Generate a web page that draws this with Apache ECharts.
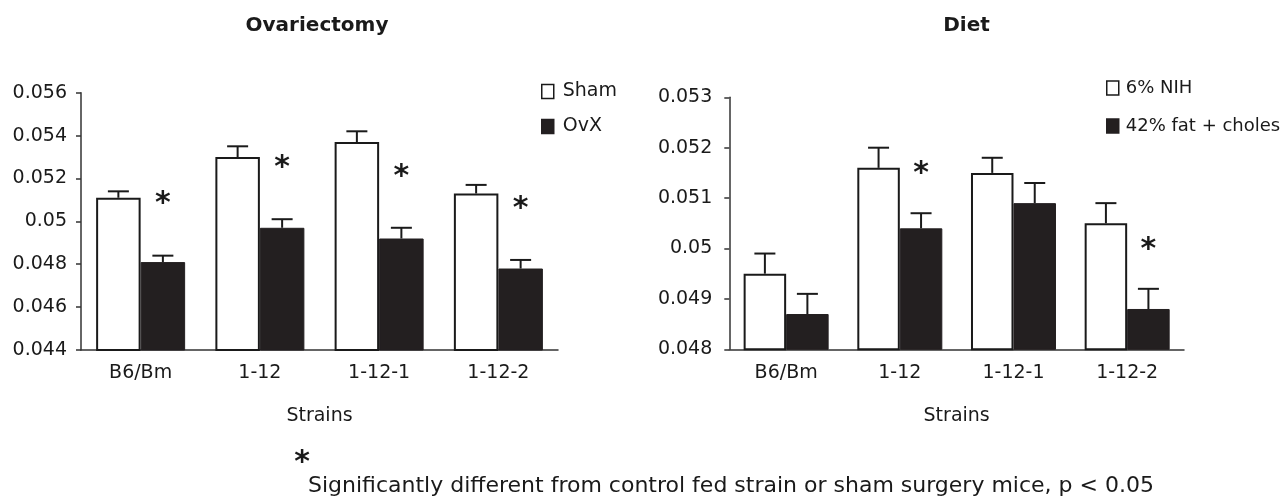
<!DOCTYPE html>
<html>
<head>
<meta charset="utf-8">
<script src="https://cdn.jsdelivr.net/npm/echarts@6/dist/echarts.min.js"></script>
<style>
  html, body { margin: 0; padding: 0; background: #fff; }
  #chart { width: 1286px; height: 496px; }
</style>
</head>
<body>
<div id="chart"></div>
<script>
  // data
  const strains = ['B6/Bm', '1-12', '1-12-1', '1-12-2'];

  const shamMean = [0.0511, 0.0530, 0.0537, 0.0513];
  const shamSem  = [0.0003, 0.0005, 0.0005, 0.0004];
  const ovxMean  = [0.0481, 0.0497, 0.0492, 0.0478];
  const ovxSem   = [0.0003, 0.0004, 0.0005, 0.0004];
  const ovxSig   = [1, 1, 1, 1];

  const nihMean  = [0.0495, 0.0516, 0.0515, 0.0505];
  const nihSem   = [0.0004, 0.0004, 0.0003, 0.0004];
  const fatMean  = [0.0487, 0.0504, 0.0509, 0.0488];
  const fatSem   = [0.0004, 0.0003, 0.0004, 0.0004];
  const dietSig  = [0, 1, 0, 1];

  const FONT = 'DejaVu Sans';
  const INK = '#1a1a1a';
  const DARK = '#231f20';

  // [index, mean, sem] for the error bar series
  function errData(mean, sem) {
    return mean.map(function (m, i) { return [i, m, sem[i]]; });
  }
  function starData(mean, sem, sig) {
    const out = [];
    mean.forEach(function (m, i) { if (sig[i]) out.push([i, m + sem[i]]); });
    return out;
  }

  // upper error bar only: stem from bar top + horizontal cap
  function errSeries(idx, mean, sem, side, barW) {
    return {
      type: 'custom', xAxisIndex: idx, yAxisIndex: idx, z: 5,
      data: errData(mean, sem),
      renderItem: function (params, api) {
        const p0 = api.coord([api.value(0), api.value(1)]);
        const p1 = api.coord([api.value(0), api.value(1) + api.value(2)]);
        const x = p0[0] + side * barW / 2;
        const st = { stroke: INK, lineWidth: 2 };
        return {
          type: 'group',
          children: [
            { type: 'line', shape: { x1: x, y1: p0[1], x2: x, y2: p1[1] }, style: st },
            { type: 'line', shape: { x1: x - 10.5, y1: p1[1], x2: x + 10.5, y2: p1[1] }, style: st }
          ]
        };
      }
    };
  }

  function starSeries(idx, data, barW, lift) {
    return {
      type: 'custom', xAxisIndex: idx, yAxisIndex: idx, z: 6,
      data: data,
      renderItem: function (params, api) {
        const p = api.coord([api.value(0), api.value(1)]);
        return {
          type: 'text',
          x: p[0] + barW / 2, y: p[1] - lift,
          style: { text: '*', fill: INK, font: 'bold 30px "DejaVu Sans"', align: 'center', verticalAlign: 'middle' }
        };
      }
    };
  }

  function catAxis(idx) {
    return {
      type: 'category', gridIndex: idx, data: strains,
      name: 'Strains', nameLocation: 'middle', nameGap: 57,
      nameTextStyle: { fontFamily: FONT, fontSize: 19, color: INK },
      axisLine: { lineStyle: { color: '#333', width: 1.5 } },
      axisTick: { length: 5, lineStyle: { color: '#333', width: 1.5 } },
      axisLabel: { fontFamily: FONT, fontSize: 19, color: INK, margin: 14 }
    };
  }

  function valAxis(idx, min, max, step, margin) {
    return {
      type: 'value', gridIndex: idx, min: min, max: max, interval: step,
      splitLine: { show: false },
      axisLine: { show: true, lineStyle: { color: '#333', width: 1.5 } },
      axisTick: { show: true, length: 5, lineStyle: { color: '#333', width: 1.5 } },
      axisLabel: { fontFamily: FONT, fontSize: 19, color: INK, margin: margin }
    };
  }

  const whiteBar = { color: '#fff', borderColor: INK, borderWidth: 2 };
  const darkBar = { color: DARK, borderColor: DARK, borderWidth: 1 };

  const legendBase = {
    orient: 'vertical', icon: 'rect', itemWidth: 12, itemHeight: 14,
    itemStyle: { borderWidth: 1.5 }
  };

  const option = {
    animation: false,
    grid: [
      { left: 81, right: 728, top: 92.7, bottom: 146 },
      { left: 729.3, right: 102, top: 97.3, bottom: 146.7 }
    ],
    xAxis: [catAxis(0), catAxis(1)],
    yAxis: [valAxis(0, 0.044, 0.056, 0.002, 14), valAxis(1, 0.048, 0.053, 0.001, 17)],
    legend: [
      Object.assign({}, legendBase, {
        data: ['Sham', 'OvX'], left: 536, top: 77, itemGap: 16,
        textStyle: { fontFamily: FONT, fontSize: 19, color: INK, padding: [0, 0, 0, 4] }
      }),
      Object.assign({}, legendBase, {
        data: ['6% NIH', '42% fat + choles'], left: 1101, top: 74, itemGap: 20,
        textStyle: { fontFamily: FONT, fontSize: 18, color: INK, padding: [0, 0, 0, 2] }
      })
    ],
    series: [
      { name: 'Sham', type: 'bar', xAxisIndex: 0, yAxisIndex: 0, data: shamMean, barWidth: 44.5, barGap: '0%', itemStyle: whiteBar },
      { name: 'OvX', type: 'bar', xAxisIndex: 0, yAxisIndex: 0, data: ovxMean, barWidth: 44.5, barGap: '0%', itemStyle: darkBar },
      { name: '6% NIH', type: 'bar', xAxisIndex: 1, yAxisIndex: 1, data: nihMean, barWidth: 42.5, barGap: '0%', itemStyle: whiteBar },
      { name: '42% fat + choles', type: 'bar', xAxisIndex: 1, yAxisIndex: 1, data: fatMean, barWidth: 42.5, barGap: '0%', itemStyle: darkBar },
      errSeries(0, shamMean, shamSem, -1, 44.5),
      errSeries(0, ovxMean, ovxSem, 1, 44.5),
      errSeries(1, nihMean, nihSem, -1, 42.5),
      errSeries(1, fatMean, fatSem, 1, 42.5),
      starSeries(0, starData(ovxMean, ovxSem, ovxSig), 44.5, 51),
      starSeries(1, starData(fatMean, fatSem, dietSig), 42.5, 39)
    ],
    graphic: [
      { type: 'text', x: 317, y: 26, style: { text: 'Ovariectomy', font: 'bold 20px "DejaVu Sans"', fill: INK, align: 'center', verticalAlign: 'middle' } },
      { type: 'text', x: 966.5, y: 26, style: { text: 'Diet', font: 'bold 20px "DejaVu Sans"', fill: INK, align: 'center', verticalAlign: 'middle' } },
      { type: 'text', x: 302, y: 463, style: { text: '*', font: 'bold 30px "DejaVu Sans"', fill: INK, align: 'center', verticalAlign: 'middle' } },
      { type: 'text', x: 308, y: 486, style: { text: 'Significantly different from control fed strain or sham surgery mice, p < 0.05', font: '22px "DejaVu Sans"', fill: INK, align: 'left', verticalAlign: 'middle' } }
    ]
  };

  const chart = echarts.init(document.getElementById('chart'));
  chart.setOption(option);
</script>
</body>
</html>
